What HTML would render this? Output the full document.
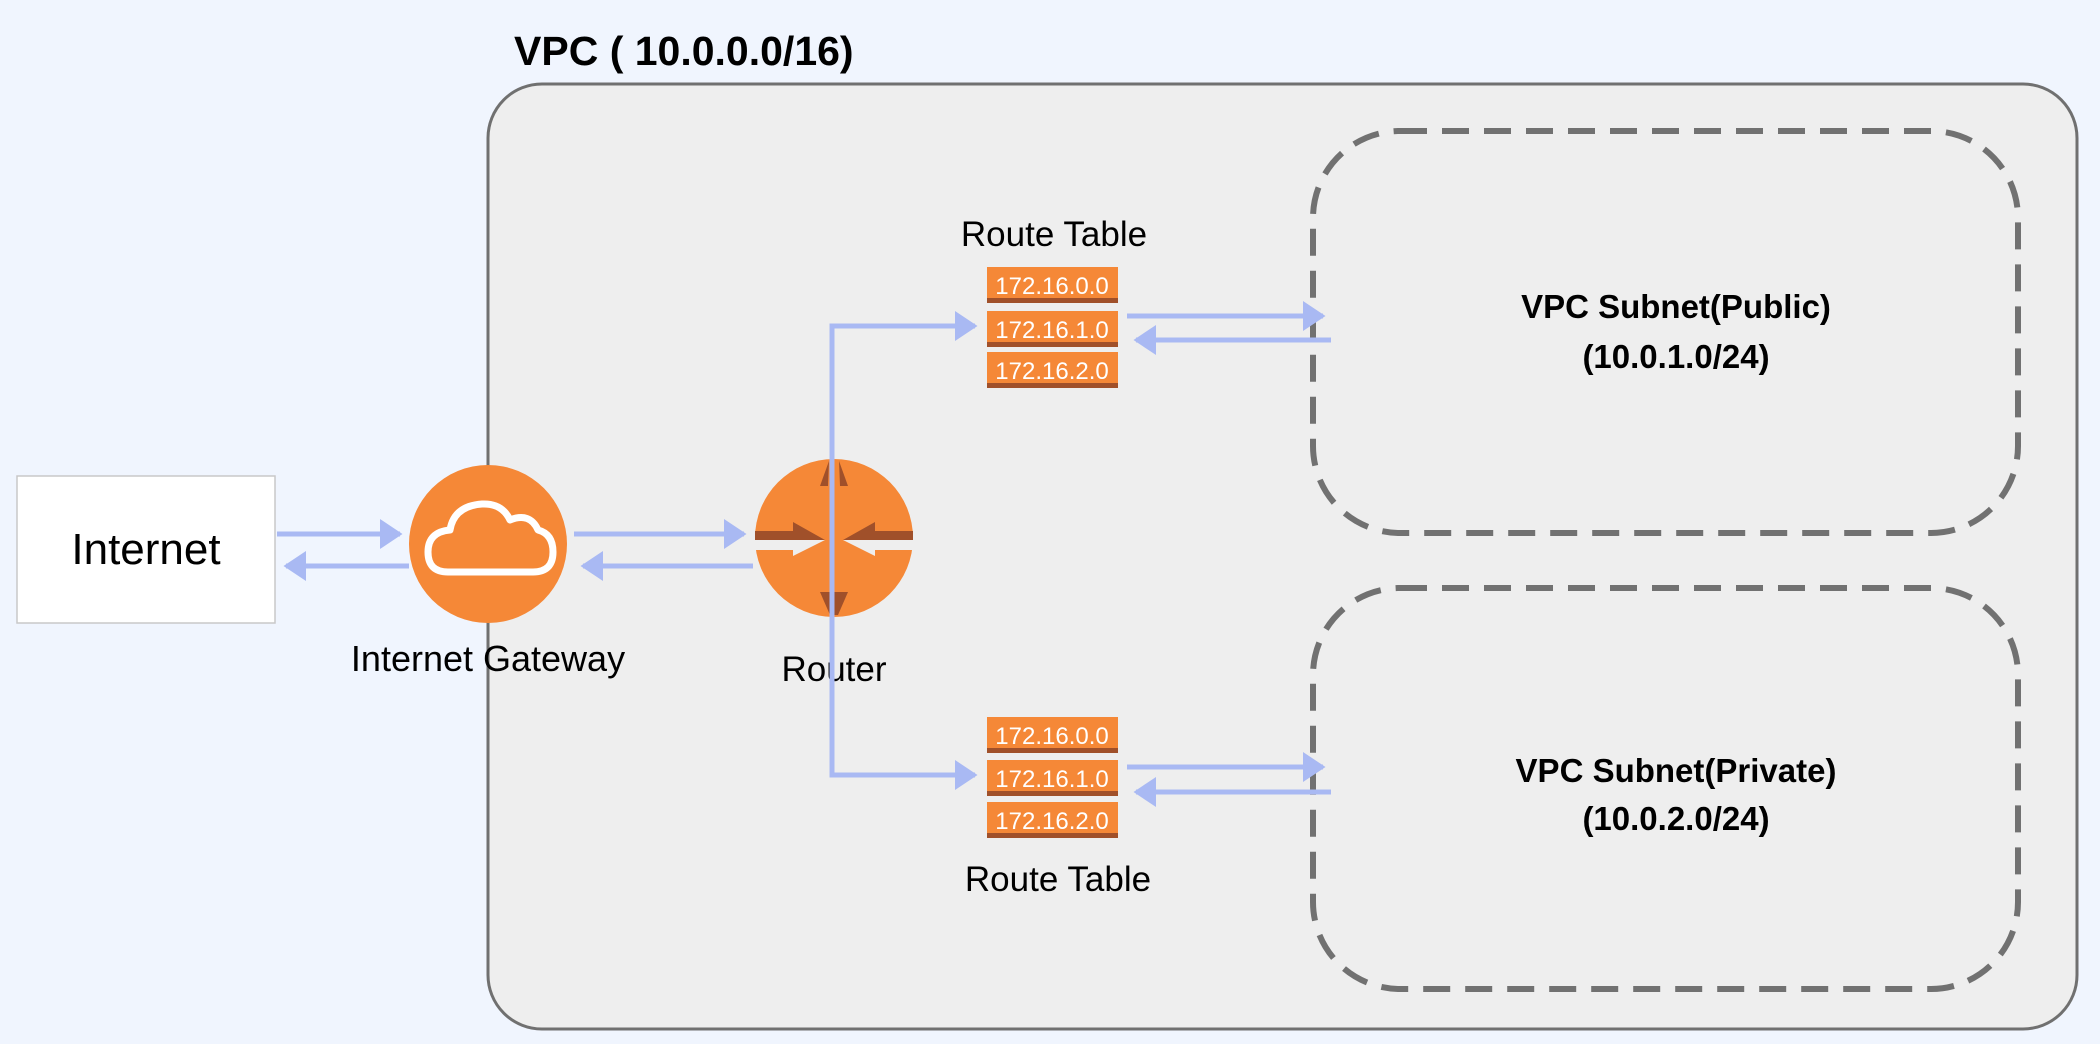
<!DOCTYPE html>
<html><head><meta charset="utf-8"><style>
html,body{margin:0;padding:0;background:#f0f5fe;}
svg{display:block;}
text{font-family:"Liberation Sans",sans-serif;}
</style></head><body>
<svg width="2100" height="1044" viewBox="0 0 2100 1044" xmlns="http://www.w3.org/2000/svg">
<defs>
<marker id="ah" markerWidth="6" markerHeight="6" refX="4" refY="3" orient="auto" markerUnits="strokeWidth">
<path d="M0,0 L4.5,3 L0,6 Z" fill="#a9b9f3"/>
</marker>
</defs>
<rect width="2100" height="1044" fill="#f0f5fe"/>
<text x="514" y="65" font-size="41" font-weight="bold" fill="#000">VPC ( 10.0.0.0/16)</text>
<rect x="488" y="84" width="1589" height="945" rx="54" fill="#eeeeee" stroke="#707070" stroke-width="3"/>
<!-- subnets -->
<rect x="1313" y="131" width="705" height="402" rx="87" fill="none" stroke="#717171" stroke-width="6" stroke-dasharray="27 15"/>
<rect x="1313" y="588" width="705" height="401" rx="87" fill="none" stroke="#717171" stroke-width="6" stroke-dasharray="27 15"/>
<text x="1676" y="318" font-size="33" font-weight="bold" text-anchor="middle">VPC Subnet(Public)</text>
<text x="1676" y="368" font-size="33" font-weight="bold" text-anchor="middle">(10.0.1.0/24)</text>
<text x="1676" y="782" font-size="33" font-weight="bold" text-anchor="middle">VPC Subnet(Private)</text>
<text x="1676" y="830" font-size="33" font-weight="bold" text-anchor="middle">(10.0.2.0/24)</text>
<!-- internet -->
<rect x="17" y="476" width="258" height="147" fill="#fff" stroke="#c8c8c8" stroke-width="1.5"/>
<text x="146" y="564" font-size="44" text-anchor="middle">Internet</text>
<!-- gateway -->
<circle cx="488" cy="544" r="79" fill="#f58837"/>
<path d="M448,572 Q428,572 428,552 Q428,532 450,530 Q454,506 482,504 Q502,503 510,520 Q530,512 538,530 Q553,534 553,552 Q553,572 533,572 Z" fill="none" stroke="#fff" stroke-width="7" stroke-linejoin="round"/>
<text x="488" y="671" font-size="36" text-anchor="middle">Internet Gateway</text>
<!-- router -->
<circle cx="834" cy="538" r="79" fill="#f58837"/>
<rect x="755" y="531" width="42" height="9" fill="#a0502a"/>
<path d="M793,522 L825,540 L793,540 Z" fill="#a0502a"/>
<rect x="755" y="540" width="42" height="10" fill="#eeeeee"/>
<path d="M793,540 L825,540 L793,556 Z" fill="#eeeeee"/>
<rect x="873" y="531" width="40" height="9" fill="#a0502a"/>
<path d="M875,522 L843,540 L875,540 Z" fill="#a0502a"/>
<rect x="873" y="540" width="40" height="10" fill="#eeeeee"/>
<path d="M875,540 L843,540 L875,556 Z" fill="#eeeeee"/>
<path d="M829,461 L820,486 L828,486 Z" fill="#a0502a"/>
<path d="M839,461 L848,486 L840,486 Z" fill="#a0502a"/>
<path d="M820,592 L848,592 L838,615 L830,615 Z" fill="#a0502a"/>
<text x="834" y="681" font-size="35" text-anchor="middle">Router</text>
<!-- route tables -->
<g font-size="24" fill="#fff" text-anchor="middle">
<rect x="987" y="267" width="131" height="36" fill="#f58837"/><rect x="987" y="298" width="131" height="5" fill="#a0502a"/><text x="1052" y="294">172.16.0.0</text>
<rect x="987" y="311" width="131" height="36" fill="#f58837"/><rect x="987" y="342" width="131" height="5" fill="#a0502a"/><text x="1052" y="338">172.16.1.0</text>
<rect x="987" y="352" width="131" height="36" fill="#f58837"/><rect x="987" y="383" width="131" height="5" fill="#a0502a"/><text x="1052" y="379">172.16.2.0</text>
<rect x="987" y="717" width="131" height="36" fill="#f58837"/><rect x="987" y="748" width="131" height="5" fill="#a0502a"/><text x="1052" y="744">172.16.0.0</text>
<rect x="987" y="760" width="131" height="36" fill="#f58837"/><rect x="987" y="791" width="131" height="5" fill="#a0502a"/><text x="1052" y="787">172.16.1.0</text>
<rect x="987" y="802" width="131" height="36" fill="#f58837"/><rect x="987" y="833" width="131" height="5" fill="#a0502a"/><text x="1052" y="829">172.16.2.0</text>
</g>
<text x="1054" y="246" font-size="35" text-anchor="middle">Route Table</text>
<text x="1058" y="891" font-size="35" text-anchor="middle">Route Table</text>
<!-- connectors -->
<g stroke="#a9b9f3" stroke-width="5" fill="none" marker-end="url(#ah)">
<line x1="277" y1="534" x2="400" y2="534"/>
<line x1="409" y1="566" x2="286" y2="566"/>
<line x1="574" y1="534" x2="744" y2="534"/>
<line x1="753" y1="566" x2="583" y2="566"/>
<polyline points="832,775 832,326 975,326"/>
<polyline points="832,326 832,775 975,775"/>
<line x1="1127" y1="316" x2="1323" y2="316"/>
<line x1="1331" y1="340" x2="1136" y2="340"/>
<line x1="1127" y1="767" x2="1323" y2="767"/>
<line x1="1331" y1="792" x2="1136" y2="792"/>
</g>
</svg>
</body></html>
